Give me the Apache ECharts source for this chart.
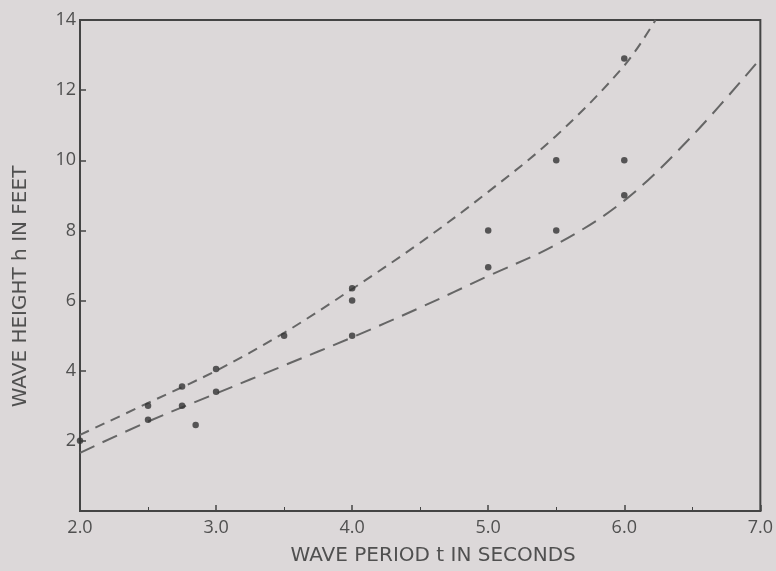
<!DOCTYPE html>
<html>
<head>
<meta charset="utf-8">
<script src="https://cdn.jsdelivr.net/npm/echarts@6/dist/echarts.min.js"></script>
<style>
  html, body { margin: 0; padding: 0; background: #dcd8d9; }
  #chart { width: 776px; height: 571px; }
</style>
</head>
<body>
<div id="chart"></div>
<script>
// Observed wave period (s) and wave height (ft)
const obsPeriod = [2.0, 2.5, 2.5, 2.75, 2.75, 2.85, 3.0, 3.0, 3.5, 4.0, 4.0, 4.0, 5.0, 5.0, 5.5, 5.5, 6.0, 6.0, 6.0];
const obsHeight = [2.0, 3.0, 2.6, 3.55, 3.0, 2.45, 4.05, 3.4, 5.0, 6.35, 6.0, 5.0, 8.0, 6.95, 10.0, 8.0, 12.9, 10.0, 9.0];

// Upper envelope (short dashes)
const upperPeriod = [2.0, 2.5, 3.0, 3.5, 4.0, 4.5, 5.0, 5.5, 6.0, 6.23];
const upperHeight = [2.17, 3.08, 4.0, 5.08, 6.33, 7.65, 9.1, 10.7, 12.7, 14.0];

// Lower envelope (long dashes)
const lowerPeriod = [2.0, 2.5, 3.0, 3.5, 4.0, 4.5, 5.0, 5.5, 6.0, 6.5, 7.0];
const lowerHeight = [1.66, 2.55, 3.35, 4.15, 4.95, 5.8, 6.7, 7.6, 8.85, 10.7, 12.9];

const pair = (xs, ys) => xs.map((x, i) => [x, ys[i]]);

const textColor = '#505050';
const inkColor = '#444';
const labelFont = '"Open Sans", "DejaVu Sans", sans-serif';
const nameFont = '"DejaVu Sans", "Open Sans", sans-serif';

const chart = echarts.init(document.getElementById('chart'), null, { renderer: 'canvas' });

chart.setOption({
  backgroundColor: '#dcd8d9',
  animation: false,
  grid: {
    left: 80, right: 12, top: 20, bottom: 60,
    show: true, borderColor: inkColor, borderWidth: 2, backgroundColor: 'transparent'
  },
  xAxis: {
    type: 'value',
    min: 2, max: 7, interval: 1,
    name: 'WAVE PERIOD t IN SECONDS',
    nameLocation: 'middle',
    nameGap: 35,
    nameTextStyle: { color: textColor, fontSize: 20, fontFamily: nameFont, padding: [0, 0, 0, 26] },
    axisLine: { show: true, lineStyle: { color: inkColor, width: 2 } },
    axisTick: { show: true, inside: true, length: 6, lineStyle: { color: inkColor, width: 1.5 } },
    minorTick: { show: true, splitNumber: 2, length: 4, lineStyle: { color: inkColor, width: 1 } },
    splitLine: { show: false },
    axisLabel: {
      color: textColor, fontSize: 18, fontFamily: labelFont, margin: 8,
      formatter: v => v.toFixed(1)
    }
  },
  yAxis: {
    type: 'value',
    min: 0, max: 14, interval: 2,
    name: 'WAVE HEIGHT h IN FEET',
    nameLocation: 'middle',
    nameGap: 49,
    nameTextStyle: { color: textColor, fontSize: 20, fontFamily: nameFont, padding: [0, 42, 0, 0] },
    axisLine: { show: true, lineStyle: { color: inkColor, width: 2 } },
    axisTick: { show: true, inside: true, length: 6, lineStyle: { color: inkColor, width: 1.5 } },
    splitLine: { show: false },
    axisLabel: {
      color: textColor, fontSize: 18, fontFamily: labelFont, margin: 4,
      formatter: v => (v === 0 ? '' : String(v))
    }
  },
  series: [
    {
      type: 'line',
      data: pair(upperPeriod, upperHeight),
      smooth: 0.35,
      showSymbol: false,
      lineStyle: { color: '#666', width: 2, type: [10, 7] },
      z: 2
    },
    {
      type: 'line',
      data: pair(lowerPeriod, lowerHeight),
      smooth: 0.35,
      showSymbol: false,
      lineStyle: { color: '#666', width: 2, type: [16, 9] },
      z: 2
    },
    {
      type: 'scatter',
      data: pair(obsPeriod, obsHeight),
      symbol: 'circle',
      symbolSize: 6.5,
      itemStyle: { color: '#333' },
      z: 3
    }
  ]
});
</script>
</body>
</html>
